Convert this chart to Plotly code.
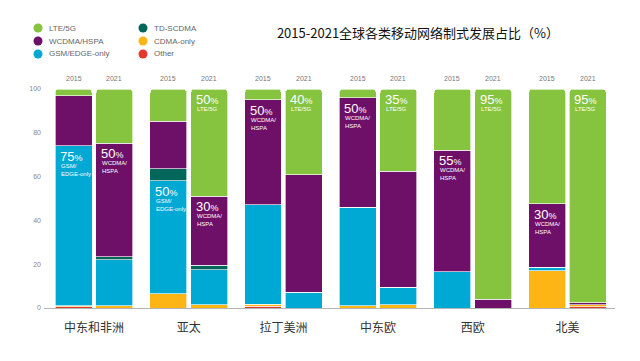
import plotly.graph_objects as go

regions = ["中东和非洲", "亚太", "拉丁美洲", "中东欧", "西欧", "北美"]
years = ["2015", "2021"]
series_names = ["Other", "CDMA-only", "GSM/EDGE-only", "TD-SCDMA", "WCDMA/HSPA", "LTE/5G"]

other_2015 = [0.5, 0, 0.7, 0, 0, 0]
cdma_2015 = [0.5, 6.6, 1, 1, 0, 17]
gsm_2015 = [73, 51.4, 45.5, 45, 16.5, 1.5]
td_2015 = [0, 5.5, 0, 0, 0, 0]
wcdma_2015 = [23, 21.7, 48, 50, 55.5, 29]
lte_2015 = [3, 14.8, 4.8, 4, 28, 52.5]

other_2021 = [0, 0, 0, 0, 0, 0.5]
cdma_2021 = [1, 1.5, 0, 1.5, 0, 1]
gsm_2021 = [21, 16, 7.3, 8, 0, 0]
td_2021 = [1.3, 2, 0, 0, 0, 0]
wcdma_2021 = [52, 31.5, 53.5, 53, 4, 1]
lte_2021 = [24.7, 49, 39.2, 37.5, 96, 97.5]

data = {
    "2015": [other_2015, cdma_2015, gsm_2015, td_2015, wcdma_2015, lte_2015],
    "2021": [other_2021, cdma_2021, gsm_2021, td_2021, wcdma_2021, lte_2021],
}

# segment labels: (region index, year, series, big value, description)
seg_labels = [
    (0, "2015", "GSM/EDGE-only", "75", "GSM/<br>EDGE-only"),
    (0, "2021", "WCDMA/HSPA", "50", "WCDMA/<br>HSPA"),
    (1, "2015", "GSM/EDGE-only", "50", "GSM/<br>EDGE-only"),
    (1, "2021", "LTE/5G", "50", "LTE/5G"),
    (1, "2021", "WCDMA/HSPA", "30", "WCDMA/<br>HSPA"),
    (2, "2015", "WCDMA/HSPA", "50", "WCDMA/<br>HSPA"),
    (2, "2021", "LTE/5G", "40", "LTE/5G"),
    (3, "2015", "WCDMA/HSPA", "50", "WCDMA/<br>HSPA"),
    (3, "2021", "LTE/5G", "35", "LTE/5G"),
    (4, "2015", "WCDMA/HSPA", "55", "WCDMA/<br>HSPA"),
    (4, "2021", "LTE/5G", "95", "LTE/5G"),
    (5, "2015", "WCDMA/HSPA", "30", "WCDMA/<br>HSPA"),
    (5, "2021", "LTE/5G", "95", "LTE/5G"),
]

colors = {
    "Other": "#E23B2E",
    "CDMA-only": "#FDB515",
    "GSM/EDGE-only": "#00A8D4",
    "TD-SCDMA": "#00675A",
    "WCDMA/HSPA": "#6E0F68",
    "LTE/5G": "#86C440",
}
legend_cols = [["LTE/5G", "WCDMA/HSPA", "GSM/EDGE-only"], ["TD-SCDMA", "CDMA-only", "Other"]]

W, H = 640, 361
ML, MR, MT, MB = 44, 25, 89, 53
PW, PH = W - ML - MR, H - MT - MB
FONT = "Liberation Sans, Arial, Noto Sans CJK SC"
CJK = "Noto Sans CJK SC, Liberation Sans"


def px2x(p):
    return (p - ML) / PW


def px2y(p):
    return (H - MB - p) / PH


BAR_W = 0.39
X_RANGE = [-0.528, 5.502]
unit_px = PW / (X_RANGE[1] - X_RANGE[0])
offsets = {"2015": -0.41, "2021": 0.02}
axis_of = {"2015": "x", "2021": "x2"}

fig = go.Figure()
for yr in years:
    for name, vals in zip(series_names, data[yr]):
        fig.add_trace(go.Bar(
            x=regions, y=vals, name=name, xaxis=axis_of[yr], yaxis="y",
            width=BAR_W, offset=offsets[yr], showlegend=False,
            marker=dict(color=colors[name], line=dict(color="rgba(255,255,255,0.8)", width=0.8)),
        ))

annotations = []
# year labels on top of bars
for i, r in enumerate(regions):
    for yr in years:
        annotations.append(dict(
            x=i, y=100, xref="x", yref="y", text=yr, showarrow=False,
            xshift=(offsets[yr] + BAR_W / 2) * unit_px, yshift=11,
            font=dict(size=7, color="#777", family=FONT),
        ))

# segment labels
for ri, yr, sname, big, desc in seg_labels:
    idx = series_names.index(sname)
    top = sum(data[yr][k][ri] for k in range(idx + 1))
    xs = offsets[yr] * unit_px + 3
    annotations.append(dict(
        x=ri, y=top, xref="x", yref="y", xanchor="left", yanchor="top", showarrow=False,
        text=f"{big}<span style='font-size:9px'>%</span>", xshift=xs, yshift=-1,
        font=dict(size=13, color="white", family=FONT),
    ))
    annotations.append(dict(
        x=ri, y=top, xref="x", yref="y", xanchor="left", yanchor="top", showarrow=False,
        text=desc, xshift=xs + 1, yshift=-15, align="left",
        font=dict(size=6, color="white", family=FONT),
    ))

# manual legend
shapes = []
for ci, col in enumerate(legend_cols):
    cx = [38, 143][ci]
    for ri, name in enumerate(col):
        cy = 28 + ri * 13
        shapes.append(dict(
            type="circle", xref="paper", yref="paper",
            x0=px2x(cx - 4.5), x1=px2x(cx + 4.5), y0=px2y(cy + 4.5), y1=px2y(cy - 4.5),
            fillcolor=colors[name], line=dict(width=0),
        ))
        annotations.append(dict(
            x=px2x(cx + 9), y=px2y(cy), xref="paper", yref="paper", xanchor="left",
            yanchor="middle", text=name, showarrow=False,
            font=dict(size=8, color="#666", family=FONT),
        ))

fig.update_layout(
    width=W, height=H, barmode="stack", barcornerradius=4,
    margin=dict(l=ML, r=MR, t=MT, b=MB),
    paper_bgcolor="white", plot_bgcolor="white",
    title=dict(text="2015-2021全球各类移动网络制式发展占比（%）", x=418 / W, y=1 - 33 / H,
               xanchor="center", yanchor="middle", font=dict(size=13, color="#111", family=CJK)),
    xaxis=dict(type="category", categoryarray=regions, range=X_RANGE,
               showline=True, linecolor="#b5b5b5", linewidth=1, ticks="", showgrid=False,
               tickfont=dict(size=12, color="#333", family=CJK), ticklabelstandoff=9),
    xaxis2=dict(type="category", categoryarray=regions, range=X_RANGE,
                overlaying="x", visible=False, matches="x"),
    yaxis=dict(range=[0, 100], tickvals=[0, 20, 40, 60, 80, 100], showgrid=False, zeroline=False,
               showline=False, ticks="", tickfont=dict(size=7, color="#888", family=FONT),
               ticklabelstandoff=2),
    annotations=annotations, shapes=shapes,
)

fig.write_html("out.html", config={"displayModeBar": False},
               post_script="document.body.style.margin='0';document.body.style.overflow='hidden';")
